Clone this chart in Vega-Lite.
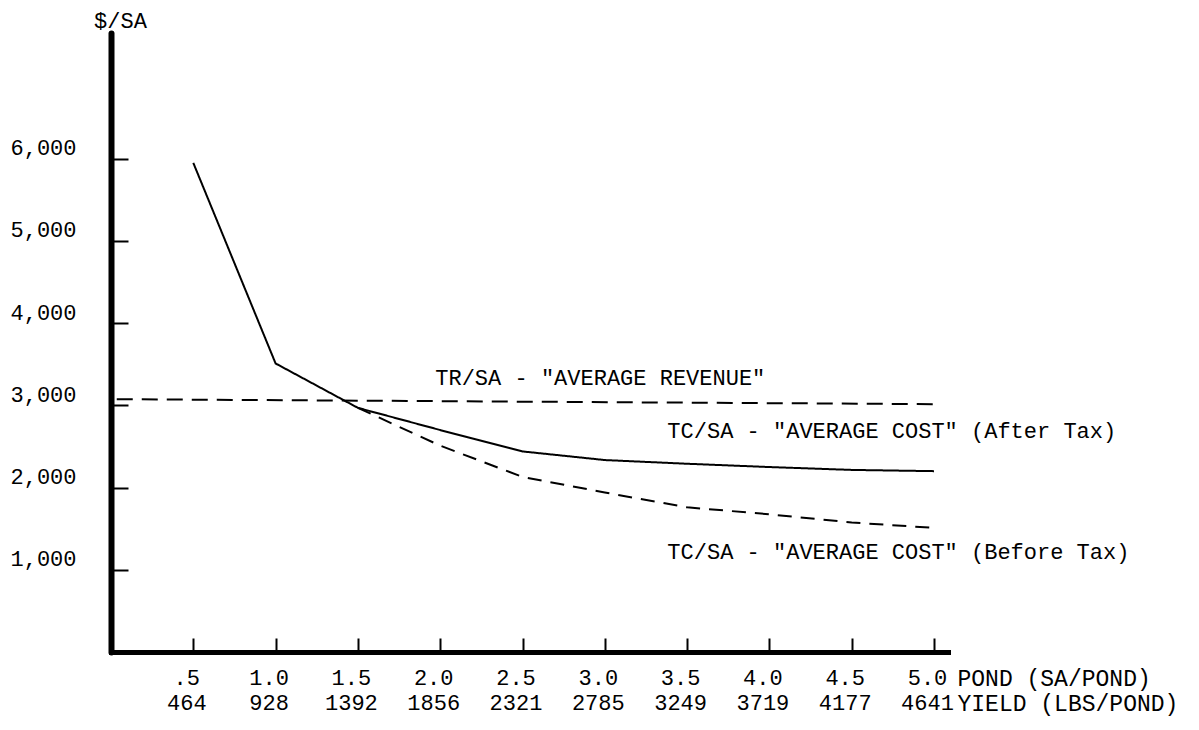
{
  "$schema": "https://vega.github.io/schema/vega-lite/v6.json",
  "width": 837,
  "height": 619,
  "autosize": {"type": "none"},
  "padding": {"left": 111, "top": 33, "right": 251, "bottom": 78},
  "background": "white",
  "config": {
    "view": {"stroke": null},
    "font": "Liberation Mono",
    "axis": {"grid": false, "labelColor": "black", "titleColor": "black", "domainColor": "black", "tickColor": "black", "labelFont": "Liberation Mono", "titleFont": "Liberation Mono"}
  },
  "datasets": {
    "cost": [
      {"x": 0.5, "y": 5950, "series": "After Tax"},
      {"x": 1.0, "y": 3510, "series": "After Tax"},
      {"x": 1.5, "y": 2970, "series": "After Tax"},
      {"x": 2.0, "y": 2700, "series": "After Tax"},
      {"x": 2.5, "y": 2440, "series": "After Tax"},
      {"x": 3.0, "y": 2335, "series": "After Tax"},
      {"x": 3.5, "y": 2290, "series": "After Tax"},
      {"x": 4.0, "y": 2250, "series": "After Tax"},
      {"x": 4.5, "y": 2215, "series": "After Tax"},
      {"x": 5.0, "y": 2200, "series": "After Tax"},
      {"x": 1.5, "y": 2970, "series": "Before Tax"},
      {"x": 2.0, "y": 2510, "series": "Before Tax"},
      {"x": 2.5, "y": 2130, "series": "Before Tax"},
      {"x": 3.0, "y": 1940, "series": "Before Tax"},
      {"x": 3.5, "y": 1760, "series": "Before Tax"},
      {"x": 4.0, "y": 1675, "series": "Before Tax"},
      {"x": 4.5, "y": 1575, "series": "Before Tax"},
      {"x": 5.0, "y": 1510, "series": "Before Tax"}
    ],
    "revenue": [
      {"x": 0.035, "y": 3075},
      {"x": 5.02, "y": 3015}
    ],
    "notes": [
      {"x": 1.97, "y": 3330, "label": "TR/SA - \"AVERAGE REVENUE\""},
      {"x": 3.38, "y": 2690, "label": "TC/SA - \"AVERAGE COST\" (After Tax)"},
      {"x": 3.38, "y": 1220, "label": "TC/SA - \"AVERAGE COST\" (Before Tax)"}
    ]
  },
  "encoding": {
    "x": {
      "field": "x",
      "type": "quantitative",
      "scale": {"domain": [0, 5.085], "nice": false, "zero": false},
      "axis": {
        "values": [0.5, 1, 1.5, 2, 2.5, 3, 3.5, 4, 4.5, 5],
        "labelExpr": "[datum.value == 0.5 ? '.5' : format(datum.value, '.1f'), ['464','928','1392','1856','2321','2785','3249','3719','4177','4641'][round(datum.value*2)-1]]",
        "labelFontSize": 22,
        "labelLineHeight": 25,
        "labelBaseline": "top",
        "labelAlign": "center",
        "labelPadding": 29,
        "labelOffset": -7,
        "labelFlush": false,
        "labelOverlap": false,
        "domainWidth": 5,
        "domainCap": "square",
        "tickSize": -14,
        "tickWidth": 2,
        "title": ["POND (SA/POND)", "YIELD (LBS/POND)"],
        "titleFontSize": 23,
        "titleFontWeight": "normal",
        "titleLineHeight": 25,
        "titleAlign": "left",
        "titleBaseline": "top",
        "titleAnchor": "start",
        "titleX": 846,
        "titleY": 15
      }
    },
    "y": {
      "field": "y",
      "type": "quantitative",
      "scale": {"domain": [0, 7530], "nice": false, "zero": false},
      "axis": {
        "values": [1000, 2000, 3000, 4000, 5000, 6000],
        "format": ",d",
        "labelFontSize": 22,
        "labelPadding": 52,
        "labelOffset": -11,
        "labelFlush": false,
        "labelOverlap": false,
        "domainWidth": 6,
        "domainCap": "round",
        "tickSize": -17,
        "tickWidth": 2,
        "title": "$/SA",
        "titleAngle": 0,
        "titleFontSize": 22,
        "titleFontWeight": "normal",
        "titleAlign": "center",
        "titleBaseline": "middle",
        "titleAnchor": "end",
        "titleX": 9,
        "titleY": -13
      }
    }
  },
  "layer": [
    {
      "data": {"name": "cost"},
      "mark": {"type": "line", "stroke": "black", "strokeWidth": 2},
      "encoding": {
        "strokeDash": {
          "field": "series",
          "type": "nominal",
          "scale": {"domain": ["After Tax", "Before Tax"], "range": [[1, 0], [14, 9]]},
          "legend": null
        }
      }
    },
    {
      "data": {"name": "revenue"},
      "mark": {"type": "line", "stroke": "black", "strokeWidth": 2, "strokeDash": [16, 9]},
      "encoding": {}
    },
    {
      "data": {"name": "notes"},
      "mark": {"type": "text", "align": "left", "baseline": "middle", "fontSize": 22, "font": "Liberation Mono", "color": "black"},
      "encoding": {
        "text": {"field": "label", "type": "nominal"}
      }
    }
  ]
}
